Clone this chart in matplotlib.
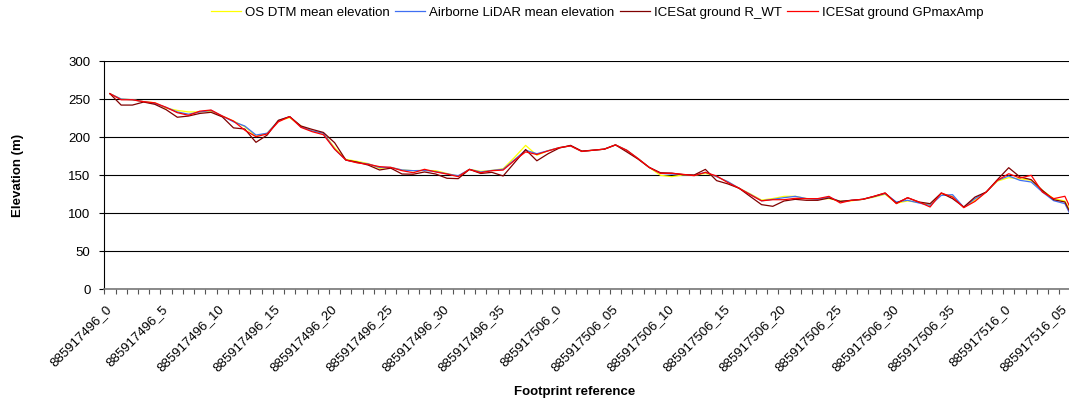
import numpy as np
import matplotlib
matplotlib.use("Agg")
import matplotlib.pyplot as plt
from matplotlib.lines import Line2D

plt.rcParams["font.family"] = ["Liberation Sans", "DejaVu Sans"]

# footprint ids along the track: 40 shots per record
record_ids = ["885917496"] * 40 + ["885917506"] * 40 + ["885917516"] * 7
shot_nums = list(range(40)) + list(range(40)) + list(range(7))
footprints = [f"{r}_{s}" for r, s in zip(record_ids, shot_nums)]

# every fifth footprint is labelled on the axis
tick_labels = [
    "885917496_0", "885917496_5", "885917496_10", "885917496_15",
    "885917496_20", "885917496_25", "885917496_30", "885917496_35",
    "885917506_0", "885917506_05", "885917506_10", "885917506_15",
    "885917506_20", "885917506_25", "885917506_30", "885917506_35",
    "885917516_0", "885917516_05",
]

os_dtm = [
    257, 250, 249, 246.5, 245, 238, 235, 233, 233, 234,
    227.6, 221, 213.6, 201, 205, 221.5, 225.4, 214.5, 208, 205,
    186, 170.6, 168, 165, 158.8, 160, 156.6, 155.7, 156, 155.7,
    152, 148.5, 157.4, 154.8, 156, 158.3, 173, 189, 176, 182,
    186, 188.3, 181, 182.6, 184, 189.6, 182.6, 171.7, 160, 149.6,
    147.8, 150, 149.5, 152.2, 148, 141, 132.6, 125.2, 117, 119,
    121.9, 122, 119, 118.5, 119, 115.8, 116, 118, 120.8, 124.6,
    113, 115.8, 114, 111, 125.4, 122, 107.5, 117, 127.6, 142,
    146.5, 145, 143, 129.8, 118.9, 115.8, 88,
]

lidar = [
    257, 250, 249, 246.5, 244, 239, 233, 230, 233, 235,
    227.6, 220, 214.5, 202.6, 205, 221.5, 226.8, 213.5, 208, 205,
    184, 169.7, 166.5, 164.5, 160, 160, 156.6, 155.7, 156, 154.5,
    151.5, 149, 157.4, 154, 156, 157.5, 170, 182.6, 178, 182,
    186, 188.3, 181, 182.6, 184, 189.6, 182.6, 171.7, 160, 152.2,
    151.3, 150.5, 149.5, 153.5, 147.8, 141.3, 132.6, 124.5, 116, 118,
    120.2, 121.9, 119, 118, 121, 115, 116.7, 118, 121.5, 125.5,
    114.5, 116.7, 113.2, 110, 123.2, 124.1, 107.5, 118.9, 127.6, 143,
    148.7, 143, 140.8, 127.6, 116.2, 112.3, 82,
]

icesat_rwt = [
    257, 242, 242, 246, 243, 236, 226, 227.6, 231, 232.5,
    226.5, 212, 210.5, 193, 202.6, 222, 226.8, 214.5, 210, 206,
    192.5, 169.7, 167, 163, 156.6, 159, 151.3, 151, 154, 151.3,
    145.7, 145.2, 157.4, 152, 153.5, 148.7, 166, 183.5, 168.7, 178,
    185.5, 189, 181.5, 182.6, 184, 189.6, 180.4, 171, 160, 153,
    152.5, 150.5, 150, 157.4, 142.6, 138.3, 132.6, 121.7, 111, 108.8,
    115.8, 118, 116.7, 116.7, 119.7, 115.3, 116.7, 118, 121.9, 126.3,
    113, 120, 114.5, 112.3, 126.3, 118.9, 107.9, 121, 127.6, 144,
    159.6, 147.4, 143.9, 129.8, 117.5, 114.5, 85,
]

icesat_gpmax = [
    257, 249, 249, 246.5, 245, 239, 232, 228.5, 234, 235.5,
    227.6, 221, 209, 200.4, 204, 220, 226.8, 212.7, 207, 203,
    184, 169.7, 166, 164, 161, 160, 155.7, 153, 157.5, 154,
    151.3, 147.8, 157.4, 153, 155.7, 156.5, 169, 180.4, 177, 181.7,
    186, 188.3, 181, 182.6, 184, 189.6, 182.6, 171.7, 160, 152.2,
    152.2, 150.9, 149.1, 153.5, 148.7, 140, 132.6, 124, 116, 117.5,
    117.5, 119.3, 118.9, 118.9, 121.9, 113.2, 116.7, 118, 121.9, 126.3,
    112.3, 120.2, 114.5, 107.9, 126.3, 121, 107, 115.3, 127.6, 143,
    151.7, 146.1, 149.6, 127.6, 118.9, 122, 90,
]

series = [
    ("OS DTM mean elevation", os_dtm, "#FFFF00"),
    ("Airborne LiDAR mean elevation", lidar, "#3F6FF2"),
    ("ICESat ground R_WT", icesat_rwt, "#800000"),
    ("ICESat ground GPmaxAmp", icesat_gpmax, "#FF0000"),
]

W, H = 1069, 400
fig = plt.figure(figsize=(W / 100, H / 100), dpi=100)
# plot area runs slightly past the right edge of the figure
ax = fig.add_axes([104.3 / W, 111 / H, 87 * 11.235 / W, 228 / H])

x = np.arange(len(footprints))
for name, vals, col in series:
    ax.plot(x, vals, color=col, lw=0.9, label=name)

ax.set_xlim(-0.5, len(footprints) - 0.5)
ax.set_ylim(0, 300)
ax.set_yticks(range(0, 301, 50))
ax.grid(axis="y", color="black", lw=0.8)
ax.set_axisbelow(True)

# tick marks between categories, labels on every fifth category
ax.set_xticks(np.arange(len(footprints) + 1) - 0.5)
ax.set_xticklabels([])
ax.set_xticks(np.arange(0, len(footprints), 5), minor=True)
ax.set_xticklabels(tick_labels, minor=True, rotation=45, ha="right",
                   va="center", rotation_mode="anchor", fontsize=9.5)
ax.tick_params(axis="x", which="major", direction="out", length=3.5,
               width=0.8, color="#555555")
ax.tick_params(axis="x", which="minor", length=0, pad=13)
ax.tick_params(axis="y", direction="out", length=3.5, width=0.8,
               labelsize=9.5, pad=6.5)

for side in ("top", "right"):
    ax.spines[side].set_visible(False)
ax.spines["left"].set_color("black")
ax.spines["bottom"].set_color("#777777")
ax.spines["left"].set_linewidth(0.8)
ax.spines["bottom"].set_linewidth(1.2)

fig.text(18 / W, 1 - 175 / H, "Elevation (m)", rotation=90, ha="center",
         va="center", fontsize=9.5, fontweight="bold")
fig.text(575 / W, 1 - 392 / H, "Footprint reference", ha="center",
         va="center", fontsize=9.5, fontweight="bold")

handles = [Line2D([], [], color=col, lw=0.9) for _, _, col in series]
fig.legend(handles, [s[0] for s in series], loc="center",
           bbox_to_anchor=(597 / W, 1 - 13 / H), ncol=4, frameon=False,
           fontsize=9.5, handlelength=2.3, handletextpad=0.3,
           columnspacing=0.4)

fig.savefig("out.png", dpi=100)
